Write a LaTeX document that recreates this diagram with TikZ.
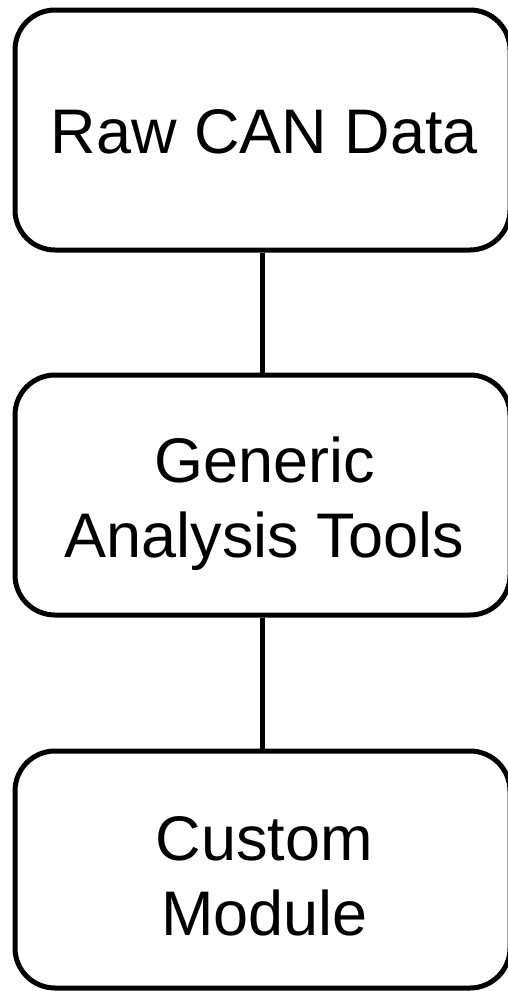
\documentclass[tikz,border=0pt]{standalone}
\usepackage{fontspec}
\setmainfont{Liberation Sans}
\begin{document}
\begin{tikzpicture}[x=1pt,y=-1pt,
  stage/.style={draw=black, line width=5pt, rounded corners=40pt,
    minimum width=495pt, minimum height=240pt, inner sep=0pt},
  caption/.style={align=center, inner sep=0pt,
    font=\fontsize{63}{75}\selectfont},
  link/.style={draw=black, line width=5pt}]
  \useasboundingbox (0,0) rectangle (508,991);
  % stage boxes
  \node[stage] (raw) at (262.5,130) {};
  \node[stage] (generic) at (262.5,495) {};
  \node[stage, minimum height=237pt] (custom) at (262.5,869.5) {};
  % box captions
  \node[caption] (rawtext) at ([xshift=2pt,yshift=-2pt]raw.center) {Raw CAN Data};
  \node[caption] (generictext) at ([xshift=2pt,yshift=-9pt]generic.center) {Generic\\Analysis Tools};
  \node[caption] (customtext) at ([xshift=2pt,yshift=-7pt]custom.center) {Custom\\Module};
  % connectors
  \draw[link] (raw.south) -- (generic.north);
  \draw[link] (generic.south) -- (custom.north);
\end{tikzpicture}
\end{document}
